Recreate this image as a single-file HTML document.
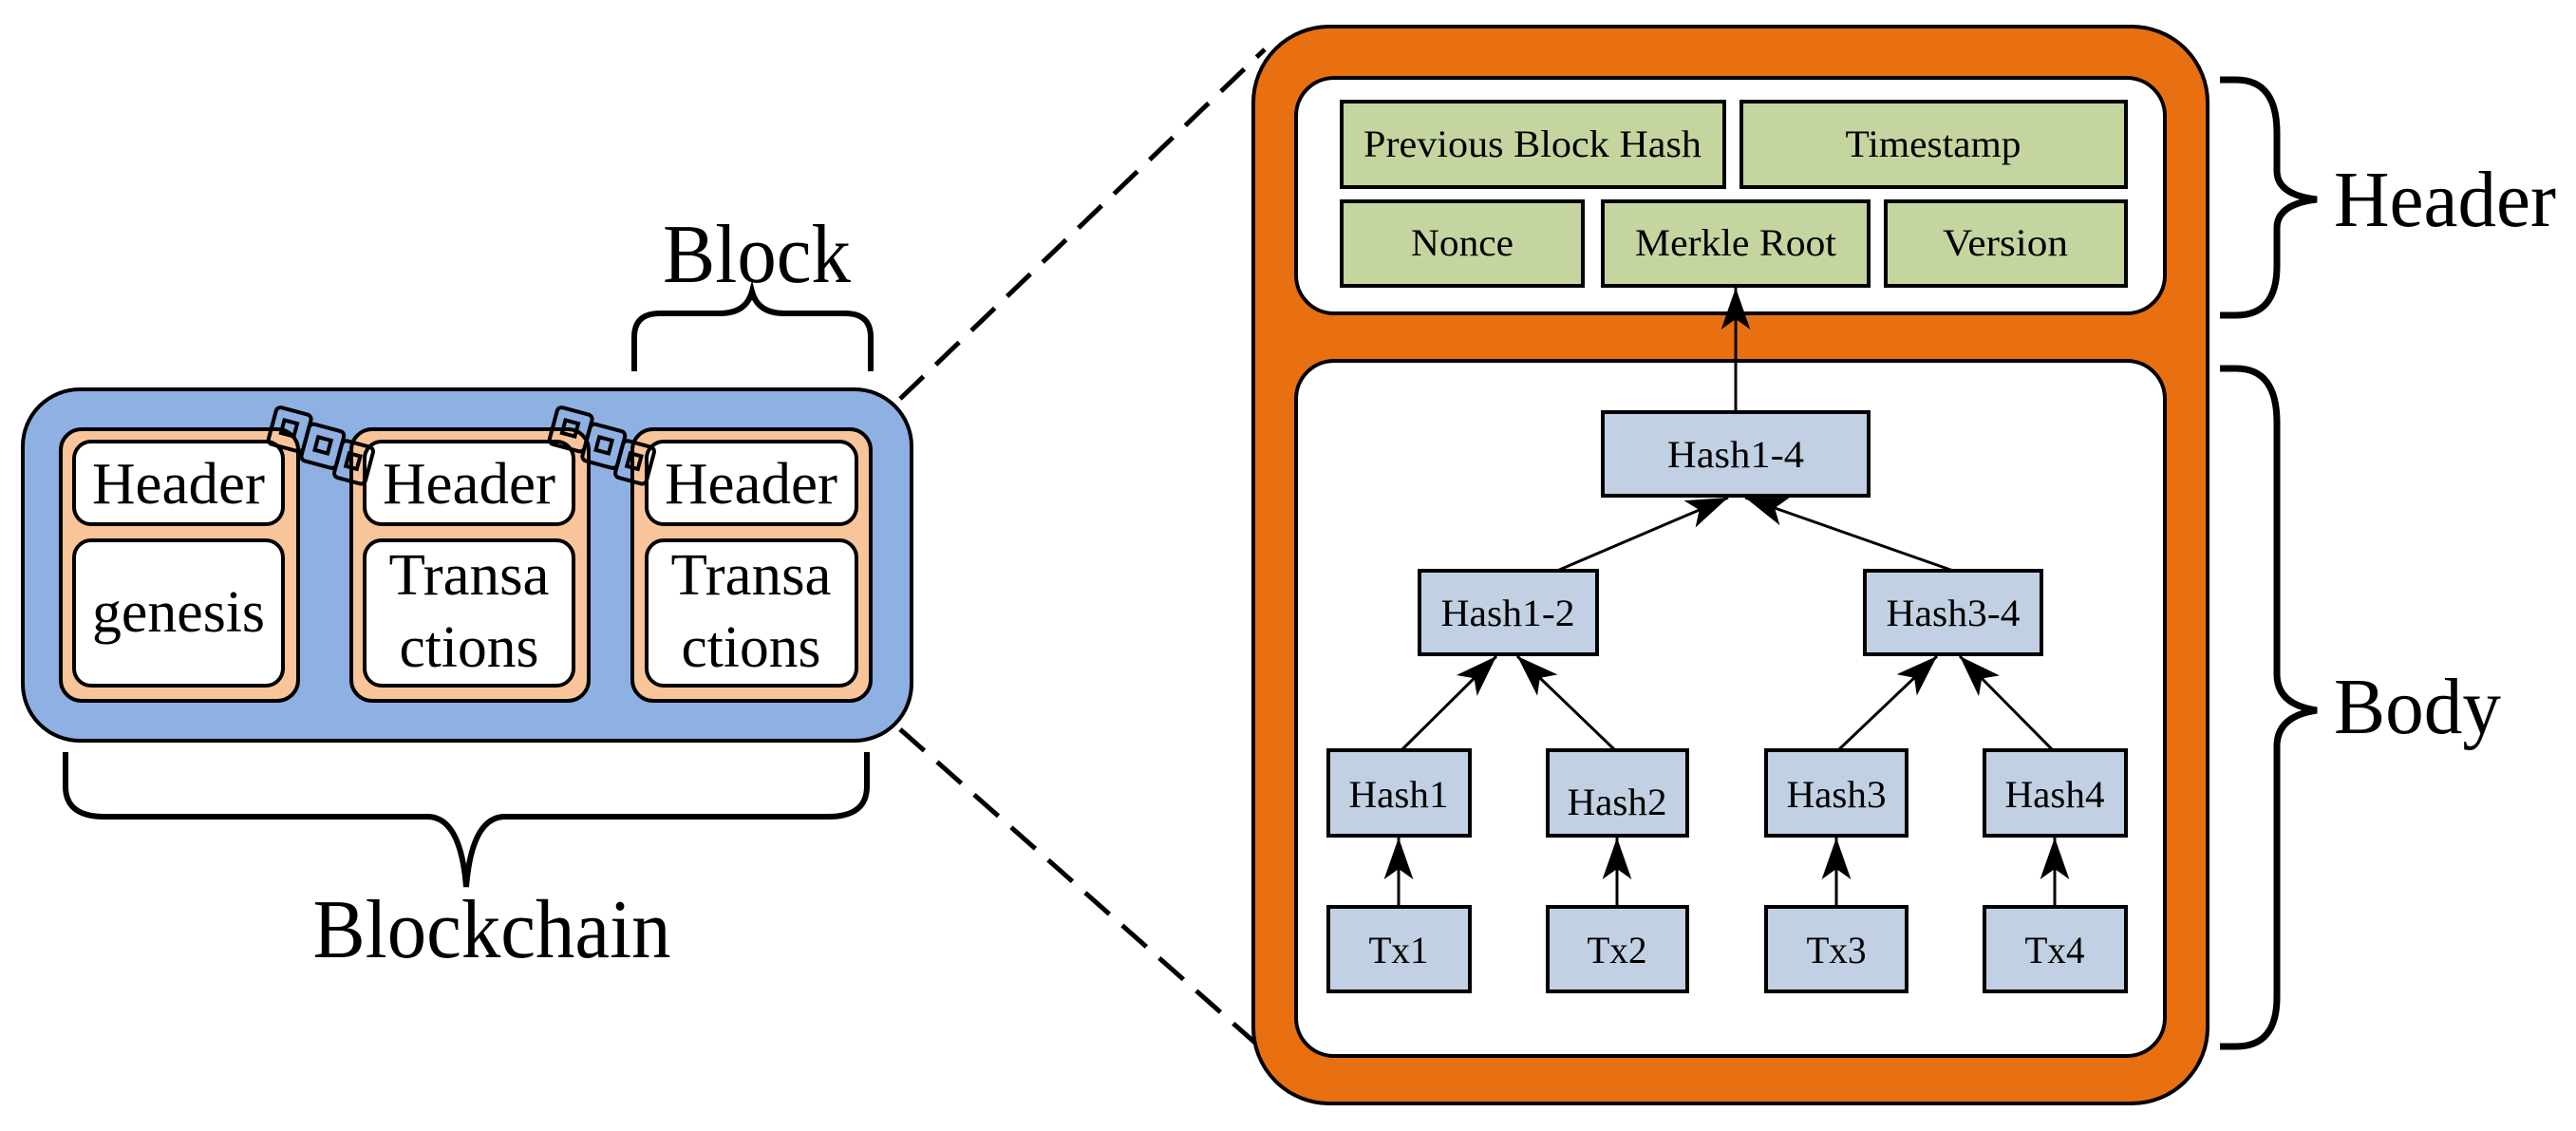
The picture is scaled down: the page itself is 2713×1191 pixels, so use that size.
<!DOCTYPE html>
<html><head><meta charset="utf-8"><style>
html,body{margin:0;padding:0;background:#fff;}
svg{display:block}
text{font-family:"Liberation Serif","Times New Roman",Times,serif;fill:#000}
</style></head><body>
<svg width="2713" height="1191" viewBox="0 0 2713 1191" xmlns="http://www.w3.org/2000/svg">
<defs>
<marker id="ah" viewBox="0 0 10 10" refX="10" refY="5" markerWidth="44" markerHeight="44" markerUnits="userSpaceOnUse" orient="auto">
<path d="M0,1.5 L10,5 L0,8.5 L2.5,5 Z" fill="#000"/>
</marker>
<g id="chain">
<rect x="0" y="0" width="38" height="40" rx="5" fill="none" stroke="#000" stroke-width="4"/>
<rect x="11" y="12" width="14" height="14" fill="none" stroke="#000" stroke-width="4"/>
<rect x="38" y="8" width="38" height="40" rx="5" fill="none" stroke="#000" stroke-width="4"/>
<rect x="50" y="20" width="14" height="14" fill="none" stroke="#000" stroke-width="4"/>
<rect x="76" y="16" width="34" height="40" rx="5" fill="none" stroke="#000" stroke-width="4"/>
<rect x="86" y="28" width="12" height="14" fill="none" stroke="#000" stroke-width="4"/>
</g>
</defs>

<line x1="948" y1="420" x2="1332" y2="52" stroke="#000" stroke-width="5" stroke-dasharray="34,18"/>
<line x1="948" y1="768" x2="1332" y2="1107" stroke="#000" stroke-width="5" stroke-dasharray="34,18"/>

<rect x="24" y="410" width="936" height="370" rx="60" fill="#8EB0E2" stroke="#000" stroke-width="4"/>
<g stroke="#000" stroke-width="4">
<rect x="64" y="452" width="250" height="286" rx="22" fill="#F8C49A"/>
<rect x="370" y="452" width="250" height="286" rx="22" fill="#F8C49A"/>
<rect x="666" y="452" width="251" height="286" rx="22" fill="#F8C49A"/>
<rect x="78" y="465" width="220" height="87" rx="18" fill="#fff"/>
<rect x="78" y="569" width="220" height="153" rx="18" fill="#fff"/>
<rect x="384" y="465" width="220" height="87" rx="18" fill="#fff"/>
<rect x="384" y="569" width="220" height="153" rx="18" fill="#fff"/>
<rect x="681" y="465" width="221" height="87" rx="18" fill="#fff"/>
<rect x="681" y="569" width="221" height="153" rx="18" fill="#fff"/>
</g>
<g font-size="62" text-anchor="middle">
<text x="188" y="530" textLength="182" lengthAdjust="spacingAndGlyphs">Header</text>
<text x="494" y="530" textLength="182" lengthAdjust="spacingAndGlyphs">Header</text>
<text x="791" y="530" textLength="182" lengthAdjust="spacingAndGlyphs">Header</text>
<text x="188" y="665" textLength="182" lengthAdjust="spacingAndGlyphs">genesis</text>
<text x="494" y="626" textLength="169" lengthAdjust="spacingAndGlyphs">Transa</text>
<text x="494" y="702" textLength="147" lengthAdjust="spacingAndGlyphs">ctions</text>
<text x="791" y="626" textLength="169" lengthAdjust="spacingAndGlyphs">Transa</text>
<text x="791" y="702" textLength="147" lengthAdjust="spacingAndGlyphs">ctions</text>
</g>
<use href="#chain" transform="translate(292,428) rotate(15)"/>
<use href="#chain" transform="translate(588,428) rotate(15)"/>

<path d="M668,391 L668,355 Q668,330 695,330 L758,330 Q786,330 792,307 Q798,330 826,330 L890,330 Q917,330 917,355 L917,391" fill="none" stroke="#000" stroke-width="6"/>
<text x="797" y="297" font-size="88" text-anchor="middle" textLength="198" lengthAdjust="spacingAndGlyphs">Block</text>
<path d="M69,792 L69,828 Q69,860 110,860 L450,860 Q485,860 491,934 Q497,860 532,860 L872,860 Q913,860 913,828 L913,792" fill="none" stroke="#000" stroke-width="6"/>
<text x="518" y="1008" font-size="88" text-anchor="middle" textLength="377" lengthAdjust="spacingAndGlyphs">Blockchain</text>

<rect x="1320" y="28" width="1005" height="1134" rx="80" fill="#E87010" stroke="#000" stroke-width="4"/>
<rect x="1365" y="82" width="915" height="248" rx="40" fill="#fff" stroke="#000" stroke-width="4"/>
<rect x="1365" y="380" width="915" height="732" rx="40" fill="#fff" stroke="#000" stroke-width="4"/>

<g stroke="#000" stroke-width="4" fill="#C5D59F">
<rect x="1413" y="107" width="403" height="90"/>
<rect x="1834" y="107" width="405" height="90"/>
<rect x="1413" y="212" width="254" height="89"/>
<rect x="1688" y="212" width="280" height="89"/>
<rect x="1986" y="212" width="253" height="89"/>
</g>
<g font-size="40" text-anchor="middle" lengthAdjust="spacingAndGlyphs">
<text x="1614" y="165" textLength="356" lengthAdjust="spacingAndGlyphs">Previous Block Hash</text>
<text x="2036" y="165" textLength="185" lengthAdjust="spacingAndGlyphs">Timestamp</text>
<text x="1540" y="269" textLength="108" lengthAdjust="spacingAndGlyphs">Nonce</text>
<text x="1828" y="269" textLength="212" lengthAdjust="spacingAndGlyphs">Merkle Root</text>
<text x="2112" y="269" textLength="132" lengthAdjust="spacingAndGlyphs">Version</text>
</g>

<g stroke="#000" stroke-width="4" fill="#C1D0E2">
<rect x="1688" y="434" width="280" height="88"/>
<rect x="1495" y="601" width="187" height="88"/>
<rect x="1964" y="601" width="186" height="88"/>
<rect x="1399" y="790" width="149" height="90"/>
<rect x="1630" y="790" width="147" height="90"/>
<rect x="1860" y="790" width="148" height="90"/>
<rect x="2090" y="790" width="149" height="90"/>
<rect x="1399" y="955" width="149" height="89"/>
<rect x="1630" y="955" width="147" height="89"/>
<rect x="1860" y="955" width="148" height="89"/>
<rect x="2090" y="955" width="149" height="89"/>
</g>
<g font-size="40" text-anchor="middle">
<text x="1828" y="492" textLength="144" lengthAdjust="spacingAndGlyphs">Hash1-4</text>
<text x="1588" y="659" textLength="141" lengthAdjust="spacingAndGlyphs">Hash1-2</text>
<text x="2057" y="659" textLength="141" lengthAdjust="spacingAndGlyphs">Hash3-4</text>
<text x="1473" y="850" textLength="105" lengthAdjust="spacingAndGlyphs">Hash1</text>
<text x="1703" y="858" textLength="105" lengthAdjust="spacingAndGlyphs">Hash2</text>
<text x="1934" y="850" textLength="105" lengthAdjust="spacingAndGlyphs">Hash3</text>
<text x="2164" y="850" textLength="105" lengthAdjust="spacingAndGlyphs">Hash4</text>
<text x="1473" y="1014" textLength="63" lengthAdjust="spacingAndGlyphs">Tx1</text>
<text x="1703" y="1014" textLength="63" lengthAdjust="spacingAndGlyphs">Tx2</text>
<text x="1934" y="1014" textLength="63" lengthAdjust="spacingAndGlyphs">Tx3</text>
<text x="2164" y="1014" textLength="63" lengthAdjust="spacingAndGlyphs">Tx4</text>
</g>

<g stroke="#000" stroke-width="3" marker-end="url(#ah)">
<line x1="1828" y1="434" x2="1828" y2="303"/>
<line x1="1640" y1="601" x2="1820" y2="524"/>
<line x1="2057" y1="601" x2="1838" y2="524"/>
<line x1="1476" y1="790" x2="1576" y2="691"/>
<line x1="1701" y1="790" x2="1598" y2="691"/>
<line x1="1936" y1="790" x2="2040" y2="691"/>
<line x1="2162" y1="790" x2="2064" y2="691"/>
<line x1="1473" y1="955" x2="1473" y2="882"/>
<line x1="1703" y1="955" x2="1703" y2="882"/>
<line x1="1934" y1="955" x2="1934" y2="882"/>
<line x1="2164" y1="955" x2="2164" y2="882"/>
</g>

<path d="M2338,84 L2355,84 Q2398,84 2398,140 L2398,180 Q2398,205 2440,210 Q2398,215 2398,240 L2398,280 Q2398,332 2355,332 L2338,332" fill="none" stroke="#000" stroke-width="7"/>
<text x="2458" y="238" font-size="84" textLength="234" lengthAdjust="spacingAndGlyphs">Header</text>
<path d="M2338,388 L2355,388 Q2398,388 2398,445 L2398,710 Q2398,742 2440,748 Q2398,754 2398,786 L2398,1050 Q2398,1102 2355,1102 L2338,1102" fill="none" stroke="#000" stroke-width="7"/>
<text x="2458" y="772" font-size="84" textLength="176" lengthAdjust="spacingAndGlyphs">Body</text>
</svg>
</body></html>
